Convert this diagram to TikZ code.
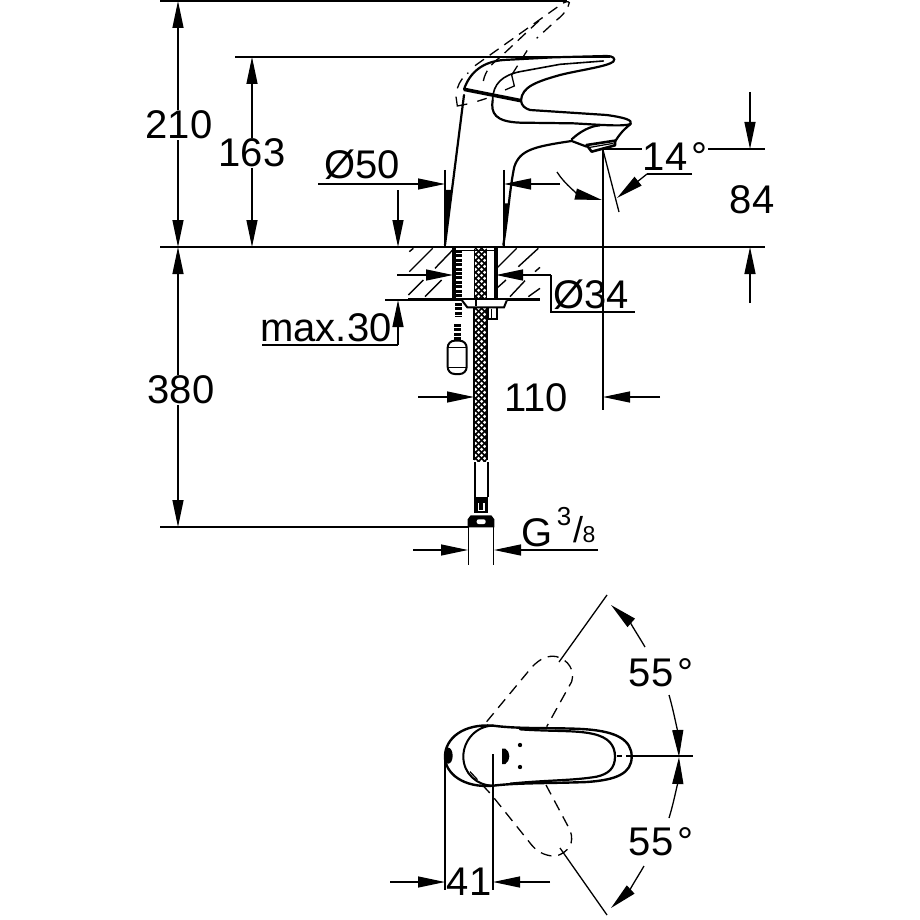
\documentclass[tikz,border=0pt]{standalone}
\usepackage{fontspec}
\setmainfont{Liberation Sans}
\usetikzlibrary{arrows.meta}
\tikzset{
 dimline/.style={line width=1.3pt,black},
 dimarr/.style={dimline,-{Triangle[length=27pt,width=11pt]}},
 outline/.style={line width=2.2pt,black,line join=round,line cap=round},
 heavy/.style={line width=3.6pt,black},
 ghost/.style={line width=1.3pt,black,dash pattern=on 11pt off 7pt},
 lab/.style={font=\fontsize{40}{40}\selectfont,inner sep=1pt,text=black},
 labw/.style={lab,fill=white},
 zone/.style={x=0.33333pt,y=-0.33333pt}
}
\begin{document}
\begin{tikzpicture}[x=1pt,y=-1pt]
\useasboundingbox (0,0) rectangle (920,920);
\fill[white] (0,0) rectangle (920,920);

% ---- reference lines
\draw[dimline] (160,1) -- (567,1);
\draw[dimline] (235,57) -- (610,57);
\draw[dimline] (160,247) -- (765,247);
\draw[dimline] (160,527) -- (468,527);

% ---- heights
\draw[dimarr] (178,125) -- (178,1);
\draw[dimarr] (178,125) -- (178,247);
\draw[dimarr] (178,390) -- (178,247);
\draw[dimarr] (178,390) -- (178,527);
\draw[dimarr] (252,150) -- (252,57);
\draw[dimarr] (252,150) -- (252,247);
\node[labw] (h210) at (179,125) {210};
\node[labw] (h163) at (252,153) {163};
\node[labw] (h380) at (181,390) {380};

% ---- body width
\node[lab] (d50) at (362,165) {Ø50};
\draw[dimarr] (318,184) -- (445,184);
\draw[dimarr] (560,184) -- (504,184);
\draw[dimline] (445,170) -- (445,247);
\draw[dimline] (504,170) -- (504,247);

% ---- max.30
\node[lab] (m30) at (326,328) {max.30};
\draw[dimline] (262,345) -- (398,345);
\draw[dimarr] (398,345) -- (398,300);
\draw[dimarr] (398,190) -- (398,247);
\draw[dimline] (385,300) -- (408,300);

% ---- 84
\draw[dimline] (603,149) -- (765,149);
\draw[dimarr] (750,92) -- (750,149);
\draw[dimarr] (750,303) -- (750,247);
\node[lab] (h84) at (752,200) {84};

% ---- 14 deg and 110
\node[lab,fill=white] (a14) at (675,157) {14\hspace{4pt}°};
\draw[dimline] (603,149) -- (603,410);
\draw[dimline] (603,150) -- (619,212);
\draw[dimarr] (557,172) .. controls (565,185) and (580,195) .. (602,200);
\draw[dimline] (692,174) -- (647,174);
\draw[dimarr] (647,174) -- (617,198);
\node[lab] (w110) at (536,398) {110};
\draw[dimarr] (418,397) -- (474,397);
\draw[dimarr] (660,397) -- (603,397);

% ---- tap side view
\begin{scope}[shift={(420,0)},zone]
 \draw[outline] (132,285) -- (75,735);
 \draw[outline] (250,735) .. controls (265,640) and (270,560) .. (283,500)
   .. controls (300,450) and (340,440) .. (455,423) -- (500,440);
 \fill (75,735) -- (95,570) -- (73,570) -- cycle;
 \fill (250,735) -- (265,610) -- (255,610) -- cycle;
 % spout
 \draw[outline] (218,300) .. controls (212,340) and (225,365) .. (300,368)
   -- (460,370) .. controls (550,375) and (610,380) .. (632,372)
   .. controls (640,360) and (610,352) .. (560,345)
   -- (330,330) .. controls (315,325) and (305,318) .. (303,302);
 \draw[outline] (455,418) .. controls (480,395) and (510,378) .. (540,376);
 \draw[outline] (632,372) .. controls (615,385) and (600,400) .. (585,425);
 % aerator
 \draw[outline,line width=2.6pt] (500,435) -- (585,422) -- (585,436) -- (515,455) -- cycle;
 \draw[line width=1.2pt] (510,442) -- (580,430);
 % lever
 \draw[heavy] (132,268) -- (303,302);
 \draw[outline] (132,268) .. controls (150,215) and (190,185) .. (250,180)
   -- (400,172) -- (560,168) .. controls (578,168) and (588,175) .. (580,185)
   .. controls (560,200) and (480,210) .. (420,225)
   .. controls (350,245) and (305,260) .. (303,302);
 \draw[outline,line width=1.6pt] (218,300) .. controls (218,250) and (250,225) .. (300,215)
   -- (420,193) -- (550,183);
 % raised lever
 \draw[ghost] (165,197) -- (425,12) .. controls (435,5) and (445,3) .. (448,8)
   .. controls (445,25) and (430,45) .. (410,60) -- (350,115);
 \draw[ghost] (112,265) .. controls (118,245) and (130,230) .. (145,218);
 \draw[ghost] (190,243) .. controls (195,215) and (215,190) .. (240,172) -- (370,50);
 \draw[ghost] (275,225) -- (330,138);
 \draw[line width=1.3pt] (255,270) -- (283,258) -- (275,225);
 \draw[line width=1.3pt] (108,290) -- (112,318) -- (142,312);
 \draw[line width=1.3pt] (172,304) -- (200,295);
\end{scope}

% ---- worktop and hoses
\begin{scope}[shift={(380,230)},zone]
 \foreach \a/\b/\c/\d in {88/125/158/55,165/115/218/60,85/195/130/150,135/200/185/150,88/65/100/55,
   350/115/410/55,415/110/475/55,350/175/378/150,390/200/435/152,445/200/480/175,465/125/480/112}
   \draw[line width=1.4pt] (\a,\b) -- (\c,\d);
 \draw[line width=2.6pt] (85,209) -- (480,209);
 \draw[line width=3.6pt] (222,55) -- (222,206);
 \draw[line width=3.6pt] (348,55) -- (348,206);
 \draw[line width=1.2pt] (222,62) -- (348,62);
 \draw[line width=1.5pt] (284,57) -- (284,206);
 \draw[line width=1.5pt] (320,57) -- (320,206);
 % chain
 \draw[line width=7pt,dash pattern=on 3pt off 1.4pt] (235,60) -- (235,262);
 \draw[line width=7pt,dash pattern=on 3pt off 1.4pt] (233,282) -- (233,335);
 \draw[line width=2pt,rounded corners=7pt,fill=white] (203,332) rectangle (260,432);
 \draw[line width=1pt] (205,352) -- (258,352) (205,412) -- (258,412);
 % hose crosshatch
 \begin{scope}
  \clip (284,55) rectangle (320,700);
  \foreach \k in {0,18,...,700} {
   \draw[line width=1.6pt] (250,\k) -- (360,110+\k);
   \draw[line width=1.6pt] (360,\k) -- (250,110+\k);
  }
 \end{scope}
 % flange
 \fill[white] (245,210) -- (380,210) -- (372,232) -- (262,232) -- cycle;
 \draw[line width=2pt] (245,210) -- (262,232) -- (372,232) -- (380,212);
 \draw[line width=1.2pt] (288,210) -- (288,228);
 \draw[line width=2pt] (325,232) -- (325,268) -- (350,268) -- (350,232);
 \draw[line width=1.2pt] (335,236) -- (335,265);
 \draw[line width=2pt] (283,232) -- (283,690);
 \draw[line width=2pt] (322,232) -- (322,690);
\end{scope}

\draw[dimarr] (397,275) -- (453,275);
\draw[dimarr] (551,275) -- (496,275);
\draw[dimline] (551,275) -- (551,312) -- (635,312);
\node[lab] (d34) at (591,295) {Ø34};

% ---- hose end
\begin{scope}[shift={(420,440)},zone]
 \fill[white] (160,66) rectangle (207,172);
 \draw[line width=2pt] (166,66) -- (166,172);
 \draw[line width=2pt] (203,66) -- (203,172);
 \fill (163,170) rectangle (205,218);
 \draw[white,line width=1.3pt] (176,190) -- (176,212) -- (192,212) -- (192,190);
 \fill (152,226) -- (214,226) -- (223,238) -- (223,262) -- (143,262) -- (143,238) -- cycle;
 \fill[white,rounded corners=2pt] (170,238) rectangle (197,252);
 \draw[line width=1.6pt] (146,262) -- (146,375);
 \draw[line width=1.6pt] (220,262) -- (220,375);
\end{scope}
\draw[dimarr] (413,550) -- (468,550);
\draw[dimarr] (598,550) -- (494,550);
\node[lab] (gth) at (537,533) {G};
\node[lab,font=\fontsize{26}{26}\selectfont] (gn) at (564,517) {3};
\node[lab,font=\fontsize{36}{36}\selectfont] (gs) at (578,530) {/};
\node[lab,font=\fontsize{23}{23}\selectfont] (gd) at (589,535) {8};

% ---- top view
\begin{scope}[shift={(420,640)},zone]
 \draw[outline,line width=2.4pt] (220,257)
   .. controls (300,268) and (420,262) .. (500,268)
   .. controls (590,275) and (635,300) .. (635,350)
   .. controls (635,400) and (590,420) .. (500,426)
   .. controls (400,430) and (290,428) .. (220,437)
   .. controls (130,445) and (75,400) .. (75,350)
   .. controls (75,295) and (130,250) .. (220,257);
 \draw[outline,line width=2pt] (220,257)
   .. controls (170,257) and (130,300) .. (130,350)
   .. controls (130,400) and (170,437) .. (220,437);
 \draw[outline] (300,268) .. controls (400,275) and (470,270) .. (520,282)
   .. controls (565,292) and (585,315) .. (585,350)
   .. controls (585,385) and (565,402) .. (530,410)
   .. controls (460,422) and (380,420) .. (270,431);
 \draw[ghost] (200,245) -- (335,82) .. controls (360,55) and (385,45) .. (410,50)
   .. controls (445,60) and (465,90) .. (455,125) -- (380,260);
 \draw[ghost] (150,395) -- (215,465) -- (335,615) .. controls (355,640) and (385,650) .. (410,648)
   .. controls (445,635) and (465,610) .. (450,570) -- (378,435);
 \fill (85,347) ellipse [x radius=13,y radius=24];
 \fill (246,326) -- (256,326) .. controls (272,335) and (272,362) .. (256,372) -- (246,372) -- cycle;
 \fill (300,315) circle (6.5);
 \fill (300,381) circle (6.5);
 \draw[dimline] (590,348) -- (605,348);
 \draw[dimline] (618,348) -- (820,348);
\end{scope}
\draw[dimline] (445,757) -- (445,890);
\draw[dimline] (493,754) -- (493,890);
\draw[dimarr] (390,882) -- (445,882);
\draw[dimarr] (550,882) -- (493,882);
\node[lab] (t41) at (469,882) {41};
\draw[dimline] (559,662) -- (607,595);
\draw[dimline] (560,848) -- (607,915);
\node[lab] (t55a) at (661,673) {55\hspace{4pt}°};
\node[lab] (t55b) at (661,842) {55\hspace{4pt}°};
\draw[dimarr] (645,647) .. controls (638,635) and (628,620) .. (611,605);
\draw[dimarr] (669,695) .. controls (674,712) and (678,735) .. (679,757);
\draw[dimarr] (669,818) .. controls (674,802) and (678,780) .. (679,757);
\draw[dimarr] (644,866) .. controls (637,878) and (628,892) .. (611,908);
\end{tikzpicture}
\end{document}
